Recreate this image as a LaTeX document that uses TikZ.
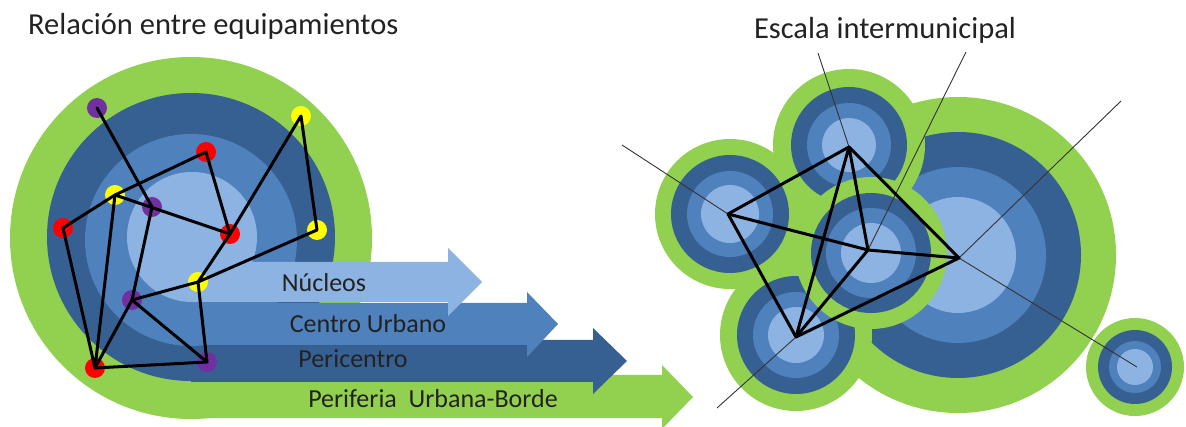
\documentclass[tikz,border=0pt]{standalone}
\usepackage{fontspec}
\setmainfont{Carlito}
\definecolor{cgreen}{HTML}{92D050}
\definecolor{cdark}{HTML}{376092}
\definecolor{cmed}{HTML}{4F81BD}
\definecolor{clight}{HTML}{8DB3E2}
\definecolor{cpurple}{HTML}{7030A0}
\definecolor{cred}{HTML}{FF0000}
\definecolor{cyellow}{HTML}{FFFF00}
\definecolor{ctext}{HTML}{222222}
\tikzset{
  dot/.style={circle,minimum size=20pt,inner sep=0pt,fill=#1},
  vtx/.style={circle,inner sep=0pt,minimum size=0pt},
  link/.style={draw=black,line width=3pt,line join=round,line cap=round},
  ray/.style={draw=black!80,line width=0.9pt},
  bandlabel/.style={text=ctext,font=\fontsize{26}{30}\selectfont,anchor=base},
  title/.style={text=ctext,font=\fontsize{30.5}{36}\selectfont}
}
\newcommand\ringset[6]{%
  \fill[cgreen] (#1,#2) circle[radius=#3pt];
  \fill[cdark] (#1,#2) circle[radius=#4pt];
  \fill[cmed] (#1,#2) circle[radius=#5pt];
  \fill[clight] (#1,#2) circle[radius=#6pt];}
\begin{document}
\begin{tikzpicture}[x=1pt,y=-1pt]
\clip (0,0) rectangle (1186,427);
\fill[white] (0,0) rectangle (1186,427);
% ---------- titles
\node[title,anchor=base west,inner sep=0pt] (t1) at (28,35) {Relación entre equipamientos};
\node[title,anchor=base,inner sep=0pt] (t2) at (885,39) {Escala intermunicipal};
% ---------- left: rings and bands
\fill[cgreen] (191,238) circle[radius=181pt];
\fill[cgreen] (191,375) -- (662,375) -- (662,365) -- (693,397) -- (662,429) -- (662,418) -- (191,418) -- cycle;
\fill[cdark] (191,237) circle[radius=144pt];
\fill[cdark] (191,340) -- (593,340) -- (593,328) -- (627,361) -- (593,394) -- (593,382) -- (191,382) -- cycle;
\fill[cmed] (191,240) circle[radius=106pt];
\fill[cmed] (191,303) -- (527,303) -- (527,292) -- (558,324) -- (527,357) -- (527,345) -- (191,345) -- cycle;
\fill[clight] (192,237) circle[radius=65pt];
\fill[clight] (191,262) -- (448,262) -- (448,248) -- (482,282) -- (448,316) -- (448,302) -- (191,302) -- cycle;
\node[bandlabel] (ln) at (324,292) {Núcleos};
\node[bandlabel] (lc) at (368,333) {Centro Urbano};
\node[bandlabel] (lp) at (353,368) {Pericentro};
\node[bandlabel] (lb) at (433,407) {Periferia~ Urbana-Borde};
% ---------- left: network
\node[dot=cpurple] (p1) at (97,108) {};
\node[dot=cyellow] (y1) at (301,116) {};
\node[dot=cred] (r1) at (206,152) {};
\node[dot=cyellow] (y2) at (115,195) {};
\node[dot=cpurple] (p2) at (152,207) {};
\node[dot=cred] (r2) at (63,228) {};
\node[dot=cred] (r3) at (230,234) {};
\node[dot=cyellow] (y3) at (317,230) {};
\node[dot=cyellow] (y4) at (198,282) {};
\node[dot=cpurple] (p3) at (132,300) {};
\node[dot=cred] (r4) at (95,368) {};
\node[dot=cpurple] (p4) at (207,362) {};
\draw[link] (p1.center) -- (p2.center) -- (p3.center) -- (r4.center);
\draw[link] (p3.center) -- (p4.center);
\draw[link] (p3.center) -- (y4.center);
\draw[link] (r4.center) -- (p4.center) -- (y4.center);
\draw[link] (r4.center) -- (r2.center) -- (y2.center) -- (r4.center);
\draw[link] (y2.center) -- (r1.center) -- (r3.center) -- (y2.center);
\draw[link] (r3.center) -- (y1.center) -- (y3.center) -- (y4.center) -- (r3.center);
% ---------- right: green filler between the clusters
\fill[cgreen] (730,214) -- (849,145) -- (958,255) -- (796,335) -- cycle;
% ---------- right: rings
\ringset{958}{255}{158}{123}{88}{58}
\ringset{1135}{367}{49}{37}{26}{18}
\ringset{730}{214}{75}{59}{43}{29}
\ringset{849}{145}{76}{58}{42}{27}
\ringset{796}{335}{76}{59}{43}{28}
\ringset{871}{253}{76}{60}{45}{30}
% ---------- right: network
\node[vtx] (T) at (849,147) {};
\node[vtx] (L) at (728,214) {};
\node[vtx] (C) at (868,250) {};
\node[vtx] (B) at (796,337) {};
\node[vtx] (G) at (959,258) {};
\node[vtx] (S) at (1137,367) {};
\coordinate (a1) at (622,145);
\coordinate (a2) at (818,53);
\coordinate (a3) at (966,52);
\coordinate (a4) at (1121,101);
\coordinate (a5) at (717,408);
\draw[ray] (a1) -- (L.center);
\draw[ray] (a2) -- (T.center);
\draw[ray] (a3) -- (C.center);
\draw[ray] (a4) -- (G.center) -- (S.center);
\draw[ray] (a5) -- (B.center);
\draw[link] (T.center) -- (L.center) -- (B.center) -- (G.center) -- (T.center);
\draw[link] (T.center) -- (C.center) -- (B.center) -- (T.center);
\draw[link] (L.center) -- (C.center) -- (G.center);
\end{tikzpicture}
\end{document}
